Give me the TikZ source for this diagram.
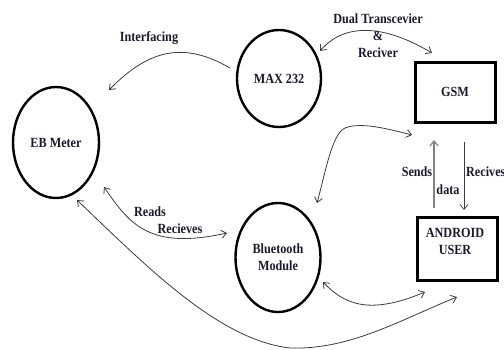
\documentclass[tikz,border=0pt]{standalone}
\usepackage{fontspec}
\newfontfamily\lblfont{Liberation Serif}[FakeStretch=0.87]
\usetikzlibrary{shapes.geometric,arrows.meta}
\definecolor{txtc}{RGB}{25,25,45}
\definecolor{arrc}{RGB}{60,60,60}
\definecolor{grayc}{RGB}{130,130,130}
\tikzset{
  lbl/.style={font=\lblfont\bfseries\fontsize{14}{17}\selectfont, text=txtc, align=center, inner sep=0pt},
  oval/.style={ellipse, draw=black, line width=2.4pt, lbl},
  boxnode/.style={rectangle, draw=black, line width=3pt, lbl},
  conn/.style={draw=arrc, line width=0.8pt, -{Straight Barb[length=5pt,width=8pt]}},
  dconn/.style={draw=arrc, line width=0.8pt, {Straight Barb[length=5pt,width=8pt]}-{Straight Barb[length=5pt,width=8pt]}}
}
\begin{document}
\begin{tikzpicture}[x=1pt,y=-1pt]
\useasboundingbox (0,0) rectangle (504,349);
% nodes
\node[oval, minimum width=86pt, minimum height=111pt] (eb) at (56,142.5) {EB Meter};
\node[oval, minimum width=84pt, minimum height=97pt] (max) at (279,78.5) {MAX 232};
\node[oval, minimum width=85pt, minimum height=109pt] (bt) at (278,257.5) {Bluetooth\\Module};
\node[boxnode, minimum width=80pt, minimum height=60pt] (gsm) at (455,92) {GSM};
\node[boxnode, minimum width=80pt, minimum height=63pt] (android) at (457,248.5) {};
\node[lbl] (androidtxt) at (455,241.5) {ANDROID\\USER};
% connector end points
\coordinate (i1) at (230,68);
\coordinate (i2) at (109,90);
\coordinate (d1) at (320,51);
\coordinate (d2) at (432,53);
\coordinate (g1) at (317,203);
\coordinate (g2) at (412,135);
\coordinate (s1) at (434,208);
\coordinate (s2) at (434,140);
\coordinate (r1) at (464,142);
\coordinate (r2) at (464,210);
\coordinate (e1) at (104,187);
\coordinate (e2) at (227,233);
\coordinate (b1) at (323,282);
\coordinate (b2) at (425,292);
\coordinate (l1) at (77,200);
\coordinate (l2) at (457,297);
% connectors
\draw[conn] (i1) .. controls (185,42) and (150,48) .. (i2);
\draw[dconn] (d1) .. controls (345,22) and (385,25) .. (d2);
\draw[dconn] (g1) .. controls (326,170) and (332,134) .. (345,128) .. controls (360,122) and (385,128) .. (g2);
\draw[conn, draw=grayc, line width=1.2pt] (s1) -- (s2);
\draw[conn, line width=0.7pt] (r1) -- (r2);
\draw[dconn] (e1) .. controls (130,225) and (150,250) .. (e2);
\draw[dconn] (b1) .. controls (345,305) and (370,315) .. (b2);
\draw[dconn] (l1) .. controls (150,270) and (220,340) .. (290,348) .. controls (350,350) and (400,320) .. (l2);
% labels
\node[lbl] (tint) at (149,38) {Interfacing};
\node[lbl] (tdual) at (378,36) {Dual Transcevier\\\&\\Reciver};
\node[lbl] (tsends) at (417,172) {Sends};
\node[lbl] (tdata) at (448,190) {data};
\node[lbl, anchor=west] (trec) at (466,172) {Recives};
\node[lbl] (treads) at (150,212) {Reads};
\node[lbl] (treci) at (180,229) {Recieves};
\end{tikzpicture}
\end{document}
